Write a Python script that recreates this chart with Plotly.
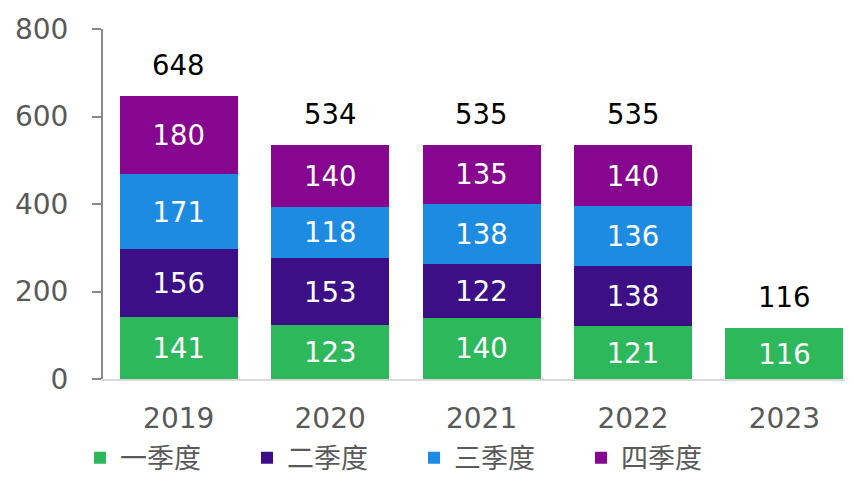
import plotly.graph_objects as go

years = ["2019", "2020", "2021", "2022", "2023"]
q1 = [141, 123, 140, 121, 116]
q2 = [156, 153, 122, 138, None]
q3 = [171, 118, 138, 136, None]
q4 = [180, 140, 135, 140, None]
totals = [648, 534, 535, 535, 116]
names = ["一季度", "二季度", "三季度", "四季度"]
colors = ["#2EB85C", "#3D0F87", "#1E8BE2", "#87068F"]

NUM_FONT = "DejaVu Sans"
CJK_FONT = "Noto Sans CJK SC"

fig = go.Figure()
for vals, name, col in zip([q1, q2, q3, q4], names, colors):
    fig.add_trace(go.Bar(
        x=years, y=vals, name=name,
        marker=dict(color=col, line=dict(width=0)),
        text=[("" if v is None else str(v)) for v in vals],
        textposition="inside", insidetextanchor="middle",
        textfont=dict(family=NUM_FONT, size=27.5, color="white"),
        textangle=0, cliponaxis=False,
    ))

for i, t in enumerate(totals):
    fig.add_annotation(x=i, y=t, xref="x", yref="y", text=str(t), showarrow=False,
                       yshift=31, yanchor="middle",
                       font=dict(family=NUM_FONT, size=27.5, color="black"))

fig.update_layout(
    barmode="stack", bargap=0.22,
    width=854, height=477,
    margin=dict(l=103, r=9, t=29, b=97.5, autoexpand=False),
    plot_bgcolor="white", paper_bgcolor="white",
    showlegend=True,
    legend=dict(orientation="h", x=-0.031, xanchor="left", y=-0.226, yanchor="middle",
                font=dict(family=CJK_FONT, size=27, color="#595959"),
                entrywidth=122, entrywidthmode="pixels", traceorder="normal",
                itemsizing="constant", borderwidth=0, tracegroupgap=0),
    uniformtext=dict(mode=False),
)
fig.update_xaxes(type="category", range=[-0.5, 4.4], automargin=False,
                 showline=True, linecolor="#D9D9D9", linewidth=2,
                 ticks="", showgrid=False,
                 tickfont=dict(family=NUM_FONT, size=28, color="#595959"),
                 ticklabelstandoff=13)
fig.update_yaxes(range=[0, 800], tickvals=[0, 200, 400, 600, 800], automargin=False,
                 showline=True, linecolor="#898989", linewidth=2,
                 ticks="outside", ticklen=9, tickwidth=2, tickcolor="#898989",
                 showgrid=False, zeroline=False,
                 tickfont=dict(family=NUM_FONT, size=28, color="#595959"),
                 ticklabelstandoff=18)

fig.write_html("out.html")
